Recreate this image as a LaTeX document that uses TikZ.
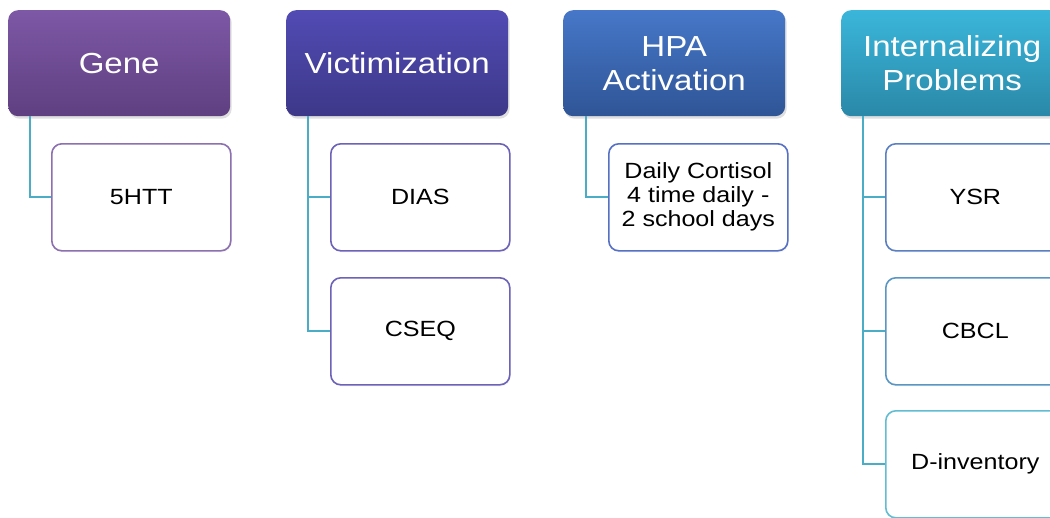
\documentclass[tikz,border=0pt]{standalone}
\usepackage{fontspec}
\setmainfont{Liberation Sans}
\newfontfamily\hfont[FakeStretch=1.14]{Liberation Sans}
\usetikzlibrary{shadows,calc}
\definecolor{conn}{HTML}{4BACC6}
\definecolor{geneT}{HTML}{7D58A6}
\definecolor{geneB}{HTML}{5F3F80}
\definecolor{vicT}{HTML}{514BB4}
\definecolor{vicB}{HTML}{3D3888}
\definecolor{hpaT}{HTML}{4677C8}
\definecolor{hpaB}{HTML}{2F5596}
\definecolor{intT}{HTML}{3AB6DA}
\definecolor{intB}{HTML}{2A88A8}
\definecolor{bGene}{HTML}{8C70B0}
\definecolor{bVic}{HTML}{6C62B8}
\definecolor{bHpa}{HTML}{5670C6}
\definecolor{bYsr}{HTML}{5A80C2}
\definecolor{bCbcl}{HTML}{5A96C4}
\definecolor{bDinv}{HTML}{62BCD2}
\tikzset{
  header/.style={anchor=north west, rounded corners=10pt, minimum width=222pt, minimum height=106pt,
    inner sep=0pt, text=white, align=center, font=\hfont\fontsize{29}{34}\selectfont,
    drop shadow={opacity=0.25, shadow xshift=1.5pt, shadow yshift=-2.5pt}},
  child/.style={anchor=north west, rounded corners=10pt, minimum width=179pt, minimum height=107pt,
    inner sep=0pt, fill=white, line width=1.6pt, align=center, font=\hfont\fontsize{22}{24}\selectfont,
    drop shadow={opacity=0.08, shadow xshift=1pt, shadow yshift=-1.5pt}},
  connline/.style={draw=conn, line width=1.8pt},
}
\begin{document}
\begin{tikzpicture}[x=1pt,y=-1pt]
\useasboundingbox (0,0) rectangle (1050,517);
\clip (0,0) rectangle (1050,517);
\fill[white] (0,0) rectangle (1050,517);
% connectors first
\coordinate (gl) at (30,116);
\coordinate (vl) at (308,116);
\coordinate (hl) at (586,116);
\coordinate (il) at (863,116);
% headers
\node[header, top color=geneT, bottom color=geneB] (gene) at (8,10) {Gene};
\node[header, top color=vicT, bottom color=vicB] (vic) at (286,10) {Victimization};
\node[header, top color=hpaT, bottom color=hpaB] (hpa) at (563,10) {HPA\\Activation};
\node[header, top color=intT, bottom color=intB] (int) at (841,10) {Internalizing\\Problems};
% children
\node[child, draw=bGene] (htt) at (51,143) {5HTT};
\node[child, draw=bVic] (dias) at (330,143) {DIAS};
\node[child, draw=bVic] (cseq) at (330,277) {CSEQ};
\node[child, draw=bHpa] (cort) at (608,143) {Daily Cortisol\\4 time daily -\\2 school days};
\node[child, draw=bYsr] (ysr) at (885,143) {YSR};
\node[child, draw=bCbcl] (cbcl) at (885,277) {CBCL};
\node[child, draw=bDinv] (dinv) at (885,410) {D-inventory};
% connectors
\draw[connline] (gl) |- (htt.west);
\draw[connline] (vl) |- (cseq.west);
\draw[connline] (vl) |- (dias.west);
\draw[connline] (hl) |- (cort.west);
\draw[connline] (il) |- (dinv.west);
\draw[connline] (il) |- (ysr.west);
\draw[connline] (il) |- (cbcl.west);
\end{tikzpicture}
\end{document}
